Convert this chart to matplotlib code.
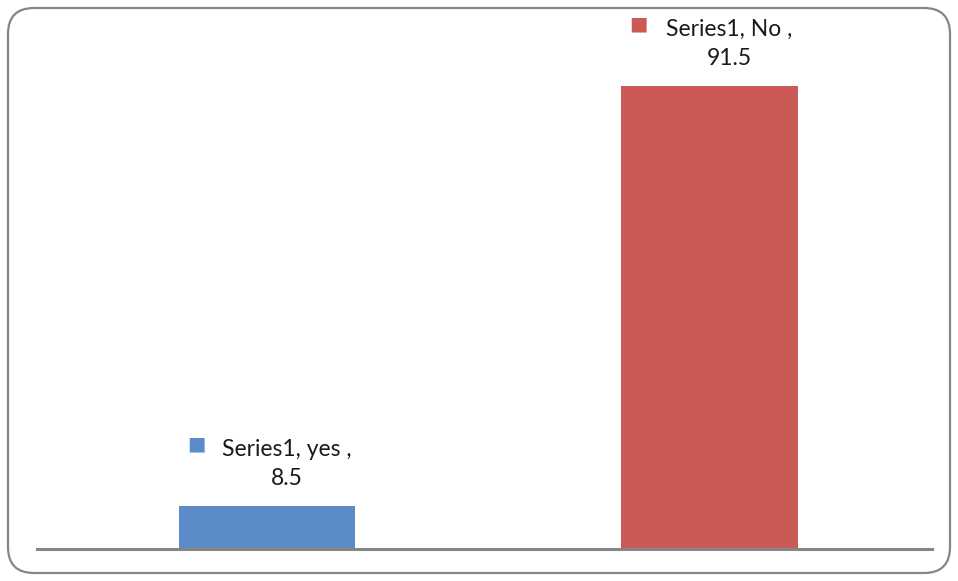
import matplotlib
matplotlib.use('Agg')
import matplotlib.pyplot as plt
from matplotlib.patches import FancyBboxPatch

categories = ['yes', 'No']
values = [8.5, 91.5]
series_name = 'Series1'
colors = ['#5B8CC8', '#CB5A56']

plt.rcParams['font.family'] = ['Lato', 'DejaVu Sans']

W, H = 958, 581
fig = plt.figure(figsize=(W / 100, H / 100), dpi=100)

# Background axes in pixel coordinates for the rounded chart border
bg = fig.add_axes([0, 0, 1, 1], zorder=0)
bg.set_xlim(0, W)
bg.set_ylim(H, 0)
bg.axis('off')
bg.add_patch(FancyBboxPatch((8, 8), W - 16, H - 16,
                            boxstyle='round,pad=0,rounding_size=26',
                            facecolor='white', edgecolor='#868686', linewidth=1.6))

# Main plot area
ax = fig.add_axes([37 / W, 32 / H, 895 / W, 506 / H], zorder=1)
ax.patch.set_alpha(0)
x = range(len(categories))
bars = ax.bar(x, values, width=0.398, color=colors)
ax.set_xlim(-0.52, len(categories) - 1 + 0.503)
ax.set_ylim(0, 100)

for side in ['top', 'right', 'left']:
    ax.spines[side].set_visible(False)
ax.spines['bottom'].set_color('#868686')
ax.spines['bottom'].set_linewidth(2.2)
ax.set_xticks([])
ax.set_yticks([])

# Data labels with legend key
for i, (cat, val, col) in enumerate(zip(categories, values, colors)):
    ax.annotate(f'{series_name}, {cat} ,\n{val}', xy=(i, val),
                xytext=(20, 42), textcoords='offset pixels',
                ha='center', va='center', fontsize=16.5,
                color='#1a1a1a', linespacing=1.5, multialignment='center')
    ax.annotate('■', xy=(i, val), xytext=(-71, 62), textcoords='offset pixels',
                ha='center', va='center', fontsize=14, color=col,
                family='DejaVu Sans')

fig.savefig('out.png', dpi=100)
